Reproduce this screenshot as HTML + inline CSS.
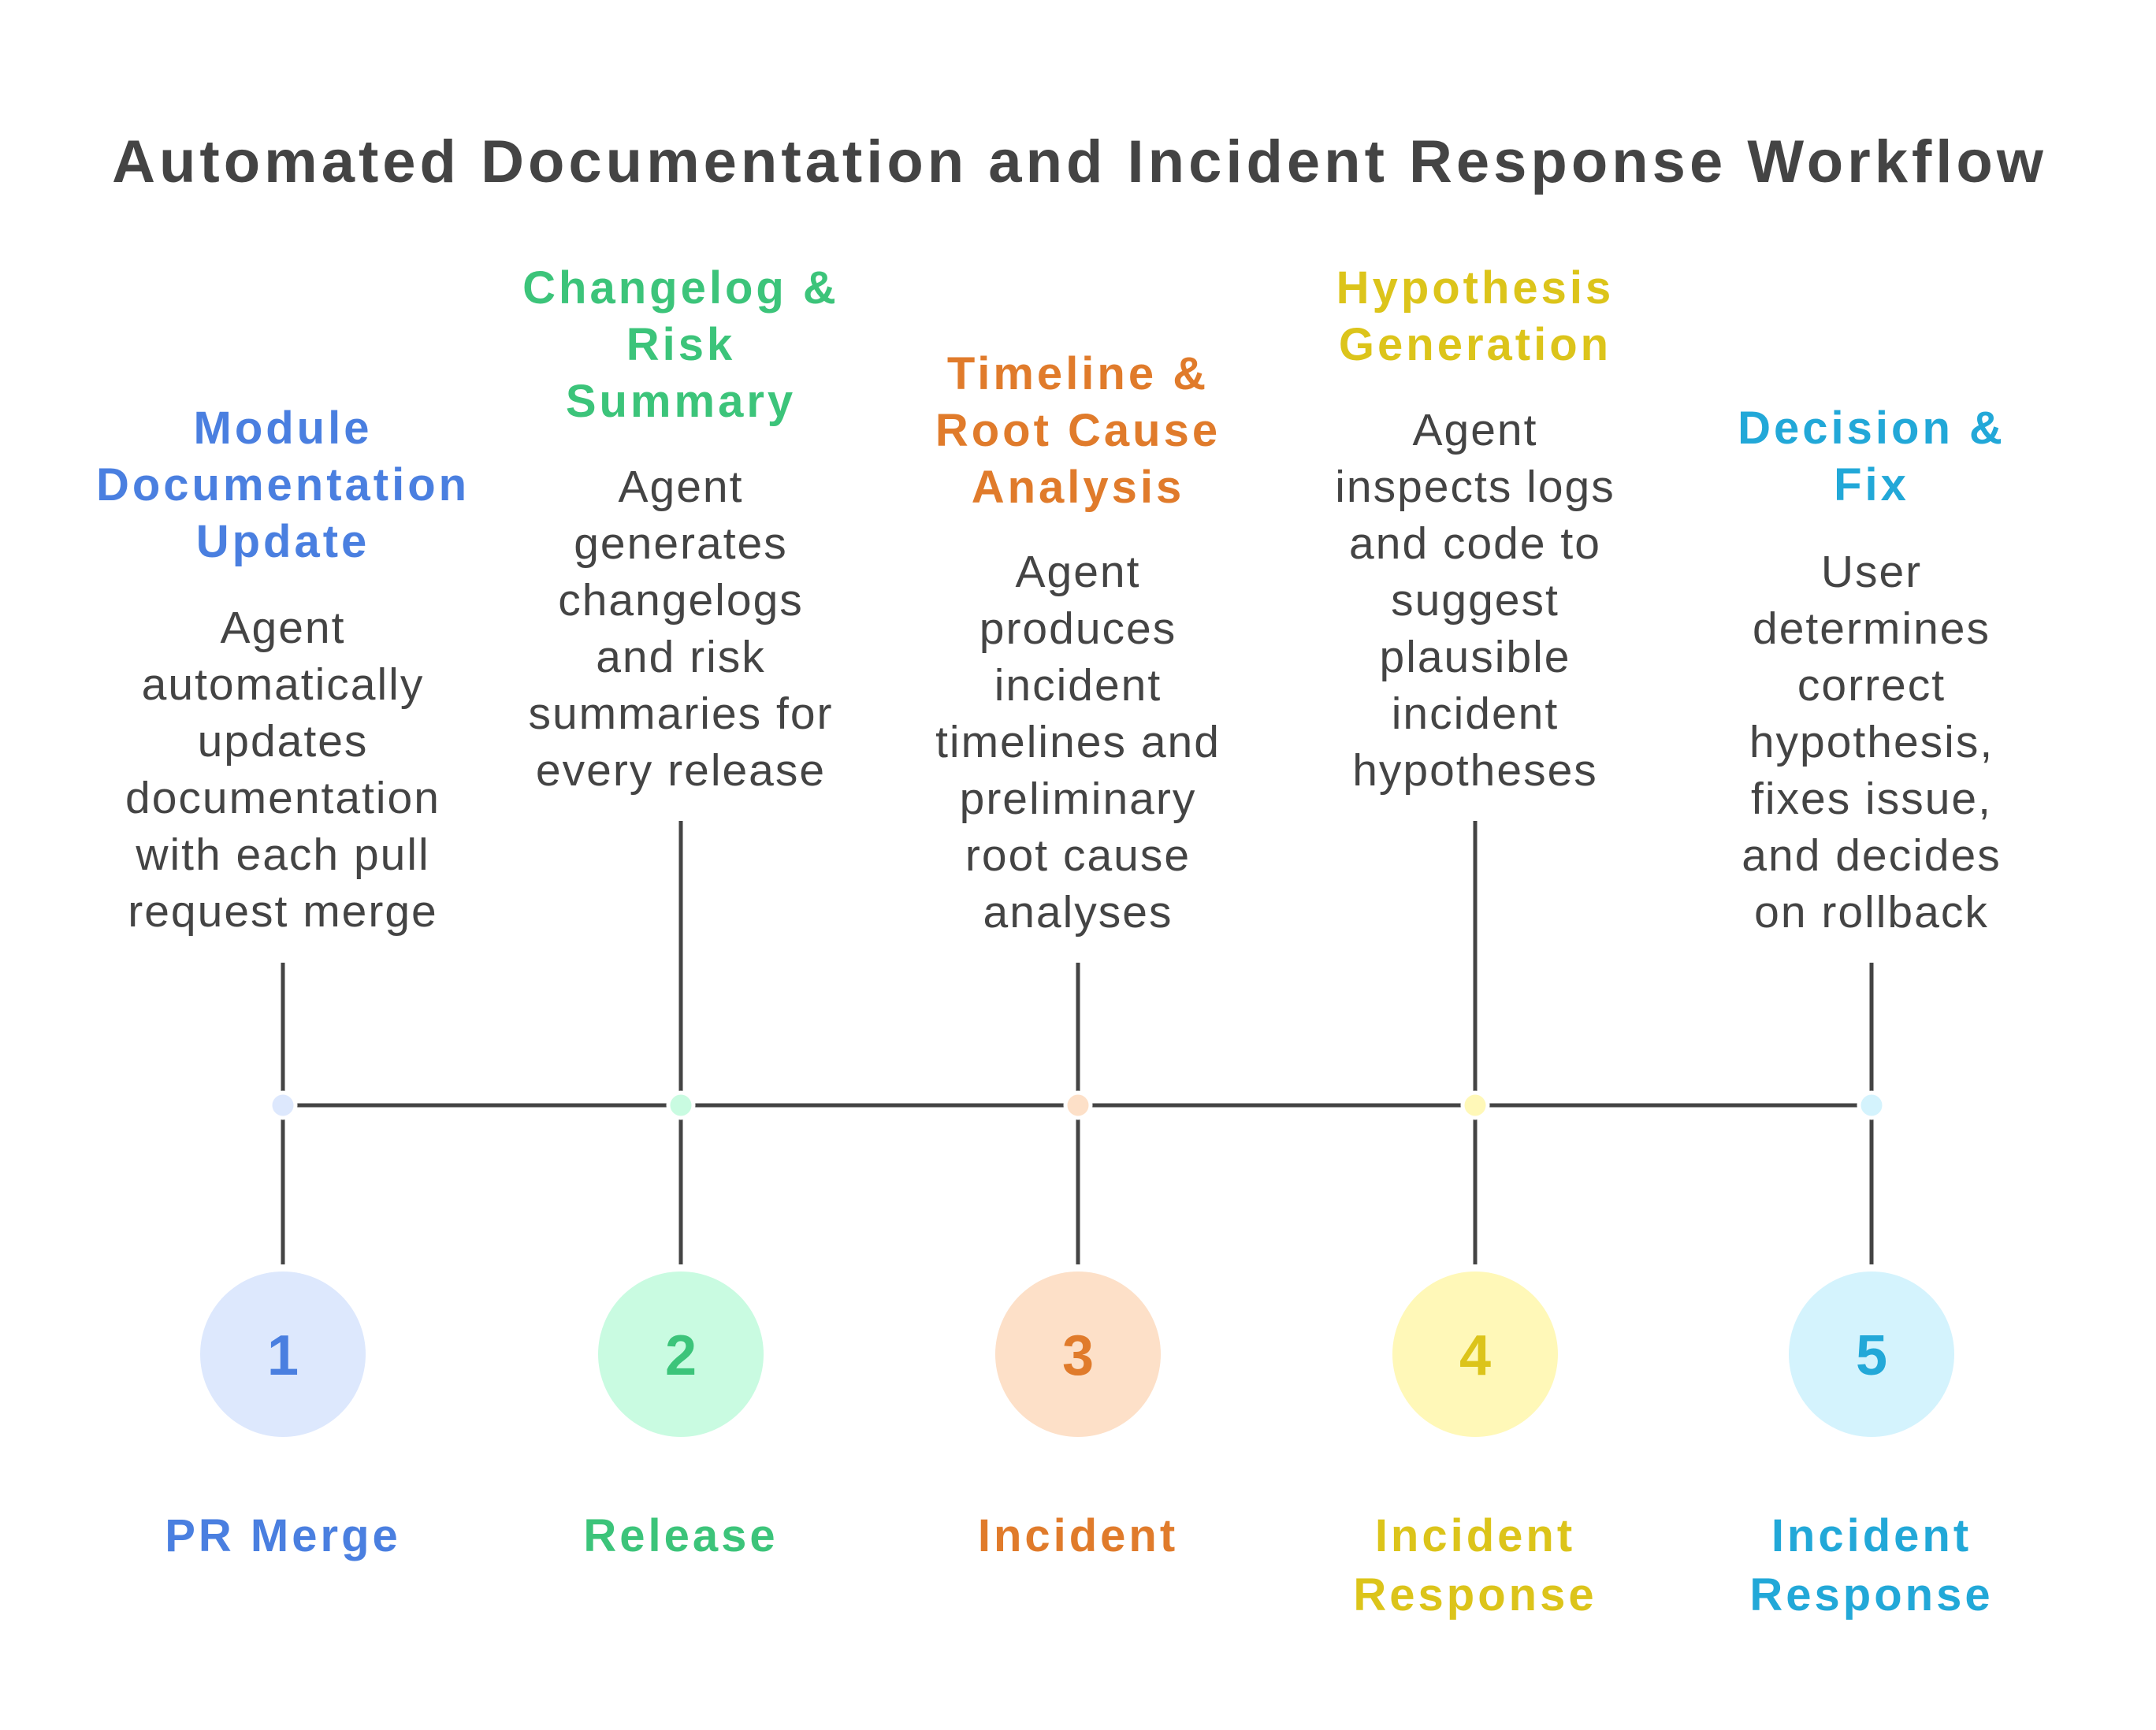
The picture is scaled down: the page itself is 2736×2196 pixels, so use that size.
<!DOCTYPE html>
<html><head><meta charset="utf-8"><style>
body{margin:0;width:2736px;height:2196px;background:#fff;position:relative;overflow:hidden;font-family:"Liberation Sans",sans-serif;}
.t{position:absolute;text-align:center;white-space:nowrap;transform:translateX(-50%);line-height:72px;font-size:57px;letter-spacing:2px;}
.h{font-weight:bold;font-size:58px;letter-spacing:4px;}
.b{color:#444;}
</style></head><body>
<div class="t h" style="left:1370px;top:162px;font-size:76px;letter-spacing:5px;line-height:88px;color:#444;">Automated Documentation and Incident Response Workflow</div>
<svg width="2736" height="2196" style="position:absolute;left:0;top:0">
<g stroke="#444" stroke-width="5" fill="none">
<line x1="359" y1="1403" x2="2375" y2="1403"/>
<line x1="359" y1="1222" x2="359" y2="1605"/>
<line x1="864" y1="1042" x2="864" y2="1605"/>
<line x1="1368" y1="1222" x2="1368" y2="1605"/>
<line x1="1872" y1="1042" x2="1872" y2="1605"/>
<line x1="2375" y1="1222" x2="2375" y2="1605"/>
</g>
<g stroke="#fff" stroke-width="5">
<circle cx="359" cy="1403" r="16" fill="#dde8fd"/>
<circle cx="864" cy="1403" r="16" fill="#c9fbe1"/>
<circle cx="1368" cy="1403" r="16" fill="#fde0c8"/>
<circle cx="1872" cy="1403" r="16" fill="#fff8b8"/>
<circle cx="2375" cy="1403" r="16" fill="#d4f3fd"/>
</g>
<circle cx="359" cy="1719" r="105" fill="#dde8fd"/>
<circle cx="864" cy="1719" r="105" fill="#c9fbe1"/>
<circle cx="1368" cy="1719" r="105" fill="#fde0c8"/>
<circle cx="1872" cy="1719" r="105" fill="#fff8b8"/>
<circle cx="2375" cy="1719" r="105" fill="#d4f3fd"/>
<g font-family="Liberation Sans,sans-serif" font-weight="bold" font-size="72" text-anchor="middle">
<text x="359" y="1745" fill="#4a7fe0">1</text>
<text x="864" y="1745" fill="#3cc47a">2</text>
<text x="1368" y="1745" fill="#e07b2b">3</text>
<text x="1872" y="1745" fill="#dcc41a">4</text>
<text x="2375" y="1745" fill="#22a8d8">5</text>
</g>
</svg>
<div class="t h" style="left:359px;top:508px;color:#4a7fe0">Module<br>Documentation<br>Update</div>
<div class="t b" style="left:359px;top:761px">Agent<br>automatically<br>updates<br>documentation<br>with each pull<br>request merge</div>
<div class="t h" style="left:864px;top:330px;color:#3cc47a">Changelog &amp;<br>Risk<br>Summary</div>
<div class="t b" style="left:864px;top:582px">Agent<br>generates<br>changelogs<br>and risk<br>summaries for<br>every release</div>
<div class="t h" style="left:1368px;top:439px;color:#e07b2b">Timeline &amp;<br>Root Cause<br>Analysis</div>
<div class="t b" style="left:1368px;top:690px">Agent<br>produces<br>incident<br>timelines and<br>preliminary<br>root cause<br>analyses</div>
<div class="t h" style="left:1872px;top:330px;color:#dcc41a">Hypothesis<br>Generation</div>
<div class="t b" style="left:1872px;top:510px">Agent<br>inspects logs<br>and code to<br>suggest<br>plausible<br>incident<br>hypotheses</div>
<div class="t h" style="left:2375px;top:508px;color:#22a8d8">Decision &amp;<br>Fix</div>
<div class="t b" style="left:2375px;top:690px">User<br>determines<br>correct<br>hypothesis,<br>fixes issue,<br>and decides<br>on rollback</div>
<div class="t h" style="left:359px;top:1912px;line-height:75px;color:#4a7fe0">PR Merge</div>
<div class="t h" style="left:864px;top:1912px;line-height:75px;color:#3cc47a">Release</div>
<div class="t h" style="left:1368px;top:1912px;line-height:75px;color:#e07b2b">Incident</div>
<div class="t h" style="left:1872px;top:1912px;line-height:75px;color:#dcc41a">Incident<br>Response</div>
<div class="t h" style="left:2375px;top:1912px;line-height:75px;color:#22a8d8">Incident<br>Response</div>
</body></html>
